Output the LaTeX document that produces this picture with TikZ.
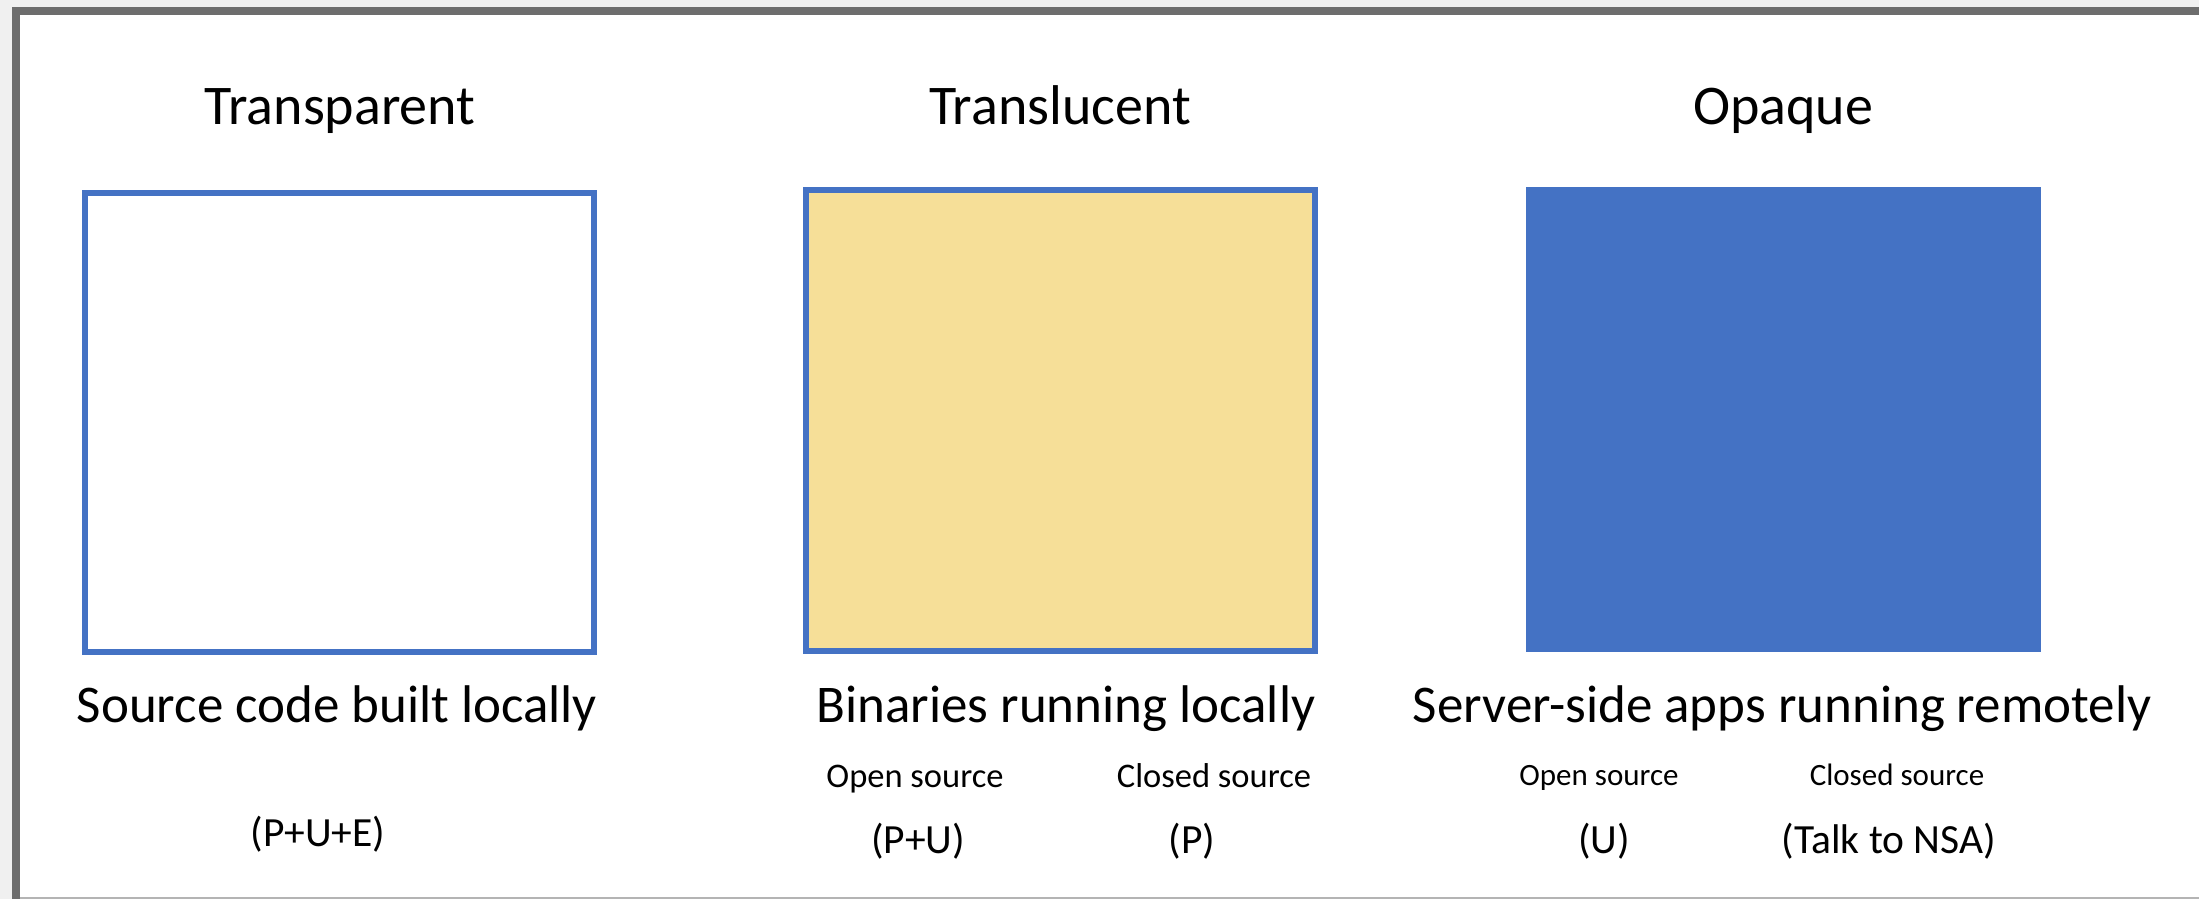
\documentclass[tikz,border=0pt]{standalone}
\usepackage{fontspec}
\setmainfont{Carlito}
\definecolor{bgGray}{HTML}{F0F0F0}
\definecolor{frameGray}{HTML}{6D6D6D}
\definecolor{lineGray}{HTML}{B4B4B4}
\definecolor{officeBlue}{HTML}{4472C4}
\definecolor{paleGold}{HTML}{F6DF98}
\begin{document}
\begin{tikzpicture}[x=0.5pt,y=-0.5pt,
  titletext/.style={font=\fontsize{28}{33}\selectfont, anchor=base, inner sep=0pt},
  desctext/.style={font=\fontsize{26.5}{31}\selectfont, anchor=base, inner sep=0pt},
  smalltext/.style={font=\fontsize{17.25}{20}\selectfont, anchor=base, inner sep=0pt},
  smallertext/.style={font=\fontsize{15.5}{19}\selectfont, anchor=base, inner sep=0pt},
  parentext/.style={font=\fontsize{20.75}{24}\selectfont, anchor=base, inner sep=0pt},
  squarebox/.style={rectangle, inner sep=0pt, outer sep=0pt, line width=3pt, draw=officeBlue},
]
% canvas and frame
\useasboundingbox (0,0) rectangle (2199,899);
\fill[bgGray] (0,0) rectangle (2199,899);
\fill[white] (20,15) rectangle (2199,897);
\fill[frameGray] (12,7) rectangle (2199,15);
\fill[frameGray] (12,7) rectangle (20,899);
\fill[lineGray] (20,897) rectangle (2199,899);

% titles
\node[titletext] (t1) at (340,125) {Transparent};
\node[titletext] (t2) at (1060,125) {Translucent};
\node[titletext] (t3) at (1783,125) {Opaque};

% boxes
\node[squarebox, fill=white, minimum width=254.5pt, minimum height=229.5pt] (b1) at (339.5,422.5) {};
\node[squarebox, fill=paleGold, minimum width=254.5pt, minimum height=230.5pt] (b2) at (1060.5,420.5) {};
\node[rectangle, inner sep=0pt, fill=officeBlue, minimum width=257.5pt, minimum height=232.5pt] (b3) at (1783.5,419.5) {};

% descriptions
\node[desctext] (d1) at (337,722) {Source code built locally};
\node[desctext] (d2) at (1066,722) {Binaries running locally};
\node[desctext] (d3) at (1782,722) {Server-side apps running remotely};

% sub labels
\node[smalltext] (o2) at (915,787) {Open source};
\node[smalltext] (c2) at (1214,787) {Closed source};
\node[smallertext] (o3) at (1599,785) {Open source};
\node[smallertext] (c3) at (1897,785) {Closed source};

% parentheticals
\node[parentext] (p1) at (318,846) {(P+U+E)};
\node[parentext] (p2) at (918,853) {(P+U)};
\node[parentext] (p3) at (1192,853) {(P)};
\node[parentext] (p4) at (1604,853) {(U)};
\node[parentext] (p5) at (1889,853) {(Talk to NSA)};
\end{tikzpicture}
\end{document}
